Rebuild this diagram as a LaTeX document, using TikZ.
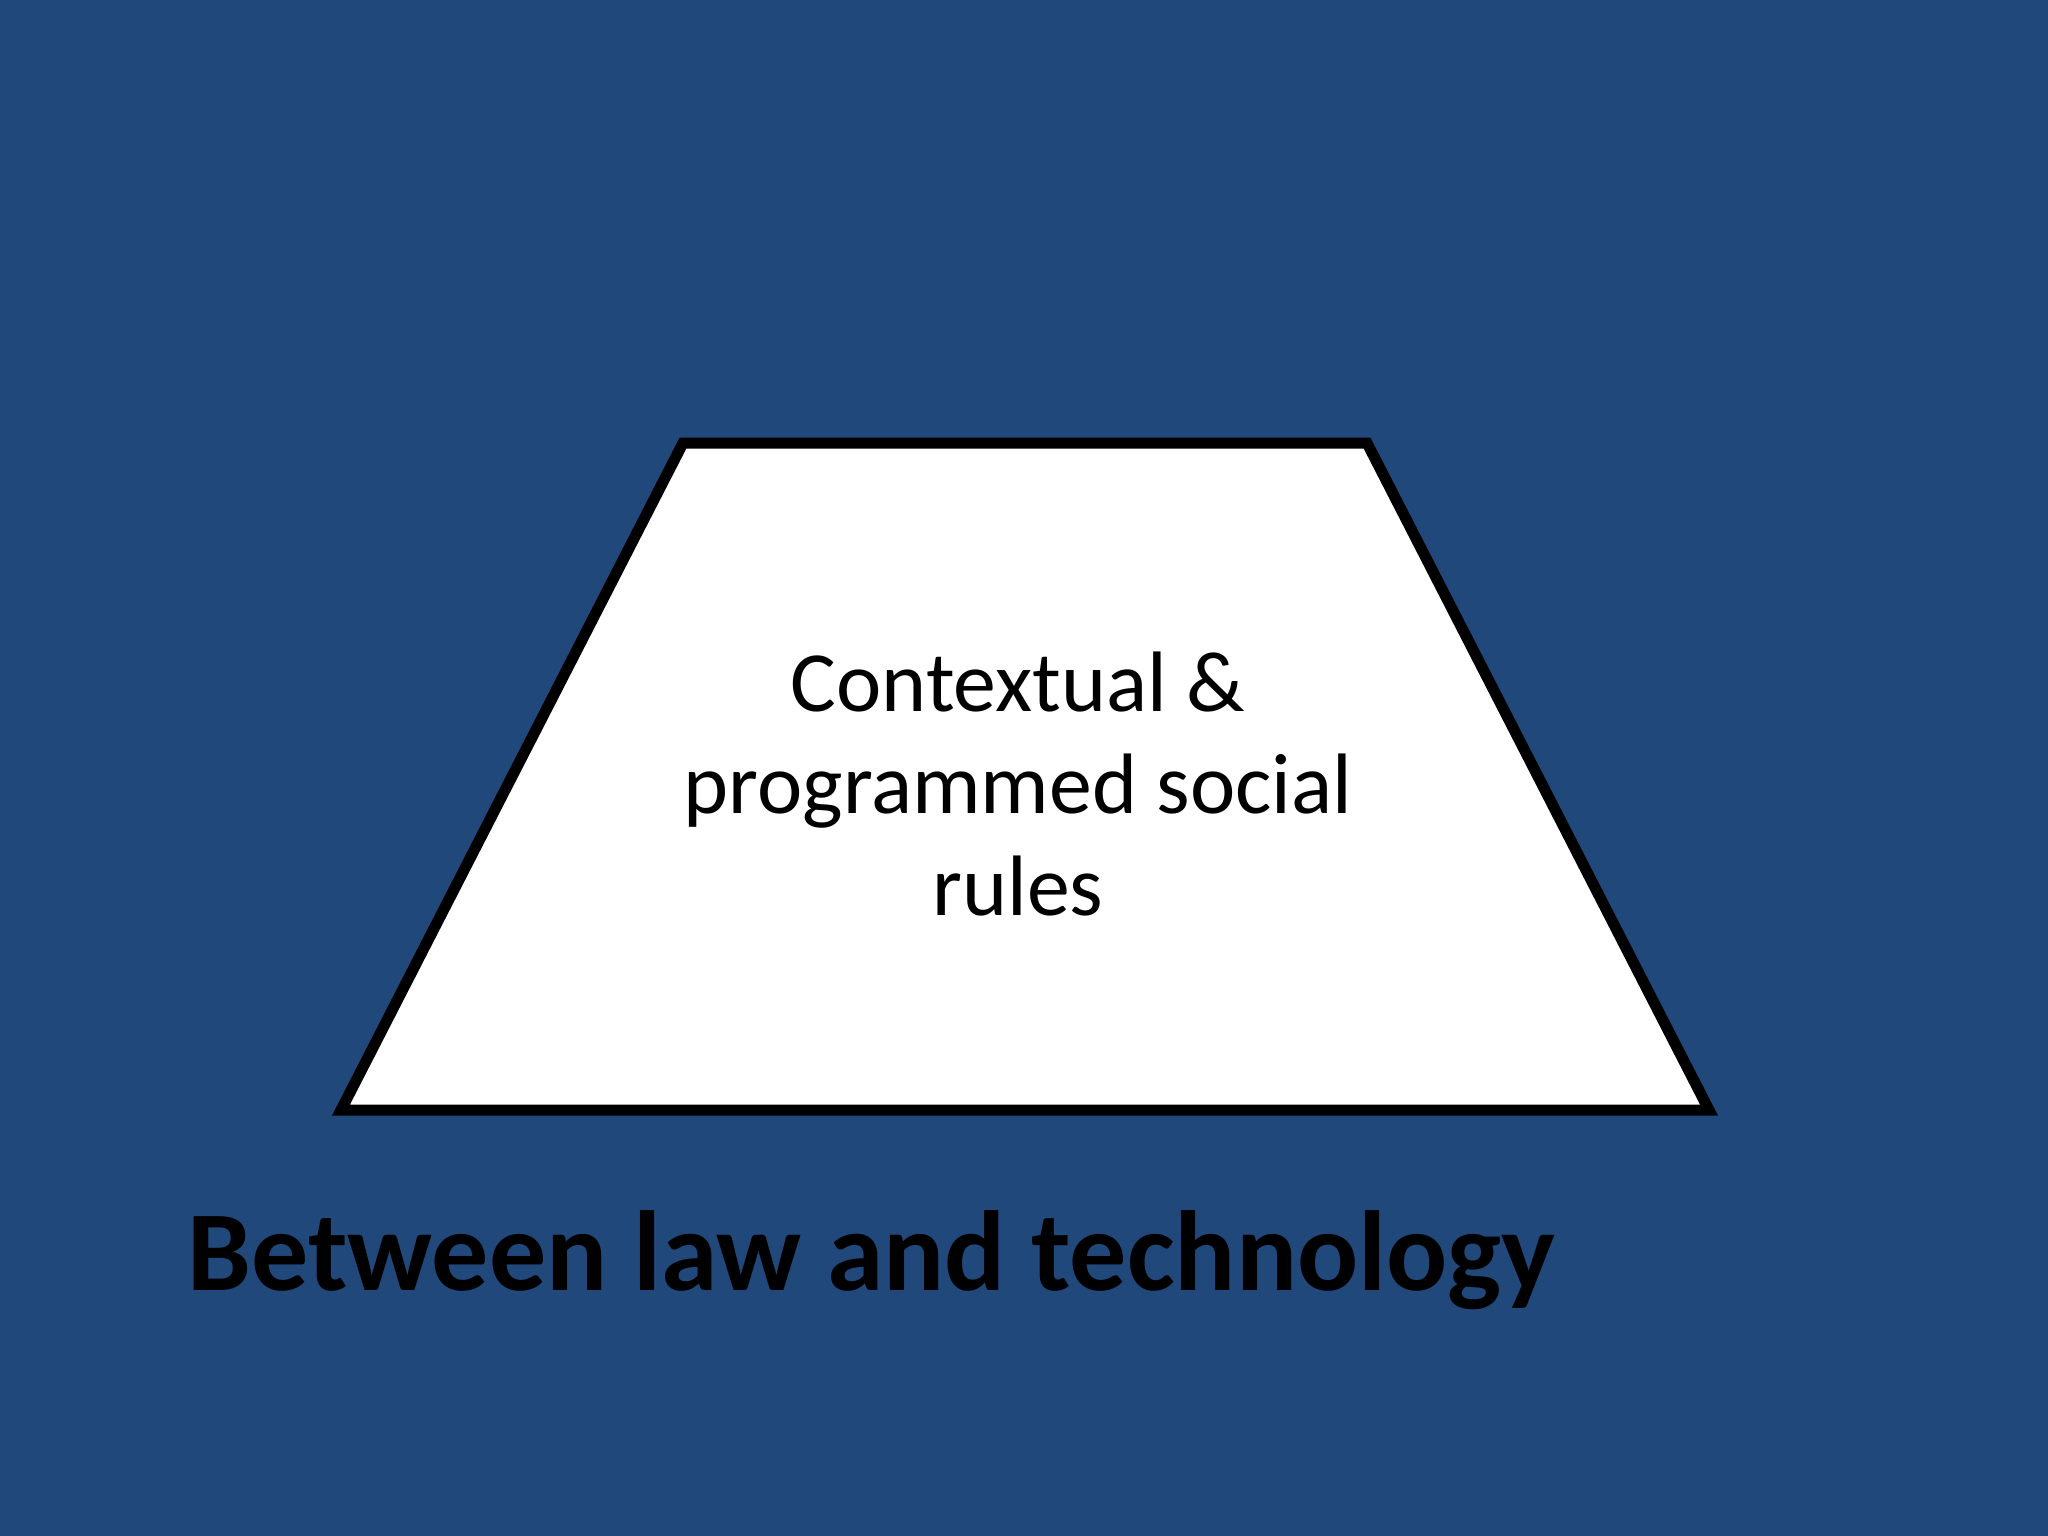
\documentclass[tikz,border=0pt]{standalone}
\usepackage{fontspec}
\setmainfont{Carlito}
\usetikzlibrary{positioning, calc}
\definecolor{slideblue}{RGB}{33, 72, 123}

\begin{document}
\begin{tikzpicture}[x=0.01cm, y=-0.01cm]
        \fill[slideblue] (0,0) rectangle (2048,1536);
        \useasboundingbox (0,0) rectangle (2048,1536);

        \coordinate (tl) at (683, 443);
        \coordinate (tr) at (1367, 443);
        \coordinate (br) at (1709, 1110);
        \coordinate (bl) at (341, 1110);
        \draw[fill=white, draw=black, line width=0.11cm, miter limit=20] (tl) -- (tr) -- (br) -- (bl) -- cycle;
        \node[align=center, font=\fontsize{24.4}{29}\selectfont] (rules) at (1018, 784) {Contextual \&\\programmed social\\rules};

        \node[anchor=base west, inner sep=0pt, font=\fontsize{32.4}{38}\selectfont\bfseries] (title) at (187, 1290) {Between law and technology};

      \end{tikzpicture}
\end{document}
